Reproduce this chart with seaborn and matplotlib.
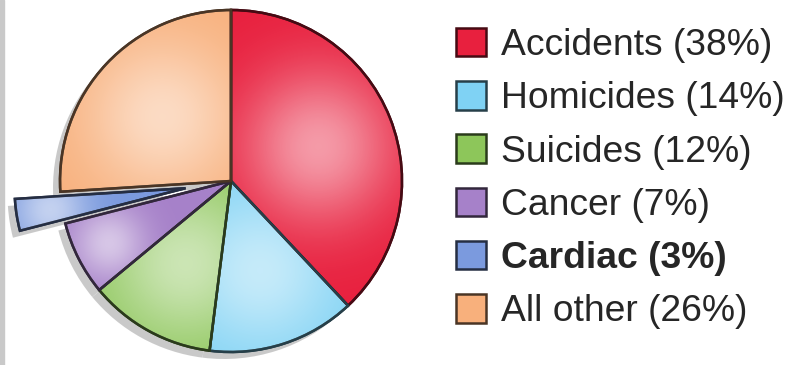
import numpy as np
import matplotlib
matplotlib.use("Agg")
import matplotlib.pyplot as plt
import matplotlib.colors as mcolors
from matplotlib.patches import Wedge
import seaborn as sns

# Causes of death, share of total (%)
causes = ["Accidents", "Homicides", "Suicides", "Cancer", "Cardiac", "All other"]
shares = [38, 14, 12, 7, 3, 26]
slice_colors = ["#e8203e", "#7fd2f4", "#8dc65a", "#a681c9", "#7b9ade", "#f8b07c"]
pulled_out = "Cardiac"

sns.set_theme(style="white")
plt.rcParams["font.family"] = ["Liberation Sans", "DejaVu Sans"]

W, H = 788, 365
fig = plt.figure(figsize=(W / 100, H / 100), dpi=100)
fig.patch.set_facecolor("white")
ax = fig.add_axes([0, 0, 1, 1])

cx, cy, r = 231, 184, 171
# explode distance is in data units (pixels here)
explode = [46 if c == pulled_out else 0.0 for c in causes]
palette = sns.color_palette(slice_colors)

# soft drop shadow under the pie
ax.pie(shares, radius=r, center=(cx - 7, cy - 7), startangle=90, counterclock=False,
       explode=explode, colors=["#c4c4c4"] * len(shares), frame=True,
       wedgeprops=dict(linewidth=0, alpha=0.9))

edge_cols = [tuple(np.array(mcolors.to_rgb(c)) * 0.3) for c in palette]
wedges, _ = ax.pie(shares, radius=r, center=(cx, cy), startangle=90, counterclock=False,
                   explode=explode, colors=palette, frame=True,
                   wedgeprops=dict(linewidth=1.8))
for w, ec, c in zip(wedges, edge_cols, causes):
    w.set_edgecolor(ec)
    w.set_zorder(5 if c == pulled_out else 2)

ax.set_xlim(0, W)
ax.set_ylim(0, H)
ax.set_aspect("equal")
ax.axis("off")

# glossy highlight inside each slice
yy, xx = np.mgrid[0:H, 0:W] + 0.5
for w, c in zip(wedges, causes):
    mid = np.deg2rad((w.theta1 + w.theta2) / 2)
    span = abs(w.theta2 - w.theta1)
    ox, oy = w.center
    dist = 0.55 * w.r if span > 30 else 0.8 * w.r
    hx, hy = ox + dist * np.cos(mid), oy + dist * np.sin(mid)
    sig = 0.32 * w.r if span > 30 else 0.15 * w.r
    a = 0.55 * np.exp(-((xx - hx) ** 2 + (yy - hy) ** 2) / (2 * sig ** 2))
    img = np.ones((H, W, 4))
    img[..., 3] = a
    im = ax.imshow(img, extent=(0, W, 0, H), origin="lower", zorder=w.get_zorder() + 0.1,
                   interpolation="bilinear")
    im.set_clip_path(w)
    ax.add_patch(Wedge(w.center, w.r, w.theta1, w.theta2, fill=False,
                       edgecolor=w.get_edgecolor(), linewidth=1.8,
                       zorder=w.get_zorder() + 0.2))

ax.set_xlim(0, W)
ax.set_ylim(0, H)

# thin grey strip along the left edge
fig.add_artist(plt.Rectangle((0, 0), 4 / W, 1, transform=fig.transFigure,
                             color="#c9c9c9", zorder=10))

labels = [f"{c} ({s}%)" for c, s in zip(causes, shares)]
leg = ax.legend(wedges, labels, loc="upper left", bbox_to_anchor=(456 / W, 1 - 28 / H),
                bbox_transform=fig.transFigure, frameon=False, fontsize=26.8,
                handlelength=0.8, handleheight=0.8, handletextpad=0.42,
                labelspacing=0.485, borderpad=0, borderaxespad=0)
for t, c in zip(leg.get_texts(), causes):
    t.set_color("#262626")
    if c == pulled_out:
        t.set_fontweight("bold")

fig.savefig("out.png", dpi=100, facecolor="white")
